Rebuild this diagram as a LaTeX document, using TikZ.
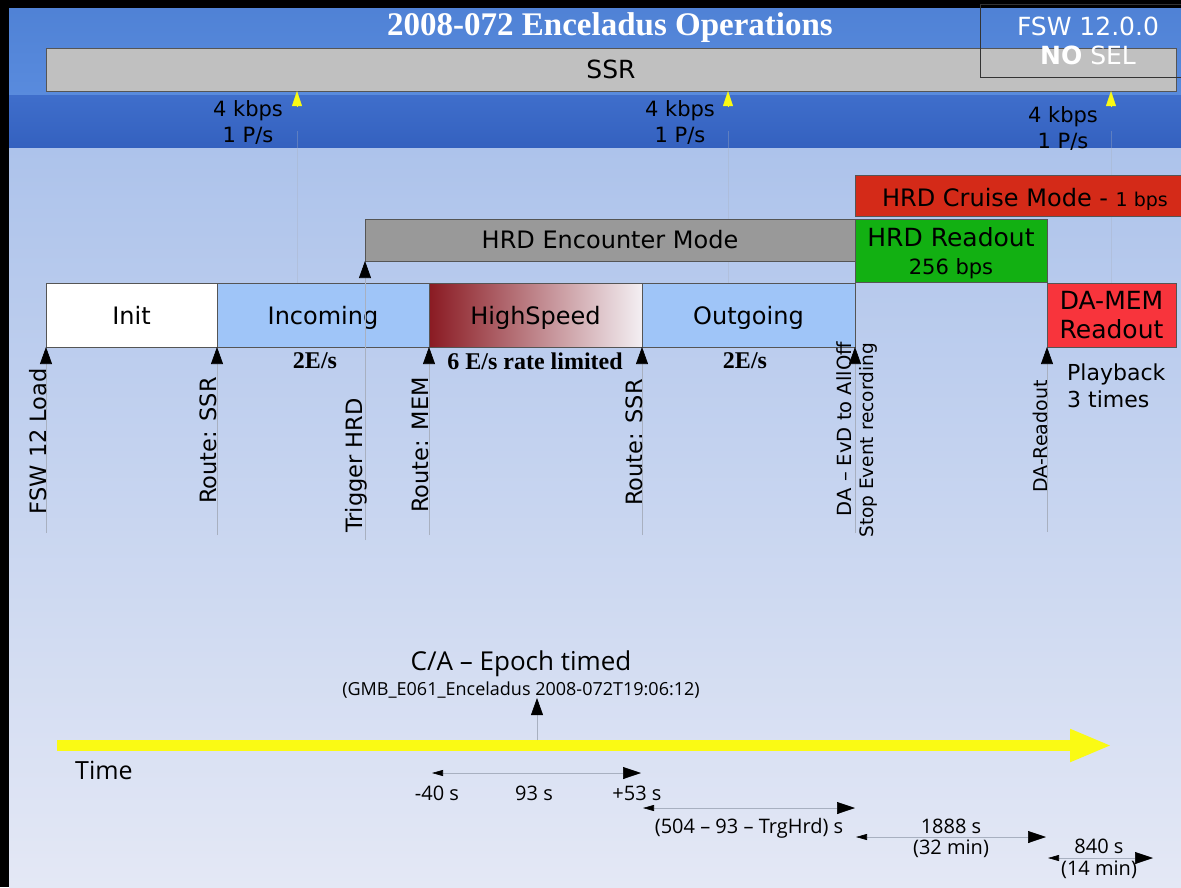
\documentclass[tikz,border=0pt]{standalone}
\usepackage{xcolor}
\usepackage{fontspec}
\setmainfont{DejaVu Sans}
\newfontfamily\headfont{Liberation Serif}
\newfontfamily\tlfont{Open Sans}
\newcommand{\ptsize}[2]{\fontsize{#1}{#2}\selectfont}
\usepackage{tikz}
\usetikzlibrary{arrows.meta}
\usetikzlibrary{calc}
\usetikzlibrary{positioning}

\definecolor{bandtop}{HTML}{5286DC}
\definecolor{bandmid}{HTML}{3F6ECB}
\definecolor{bandlow}{HTML}{3461BF}
\definecolor{paletop}{HTML}{ADC3EB}
\definecolor{palemid}{HTML}{D3DDF1}
\definecolor{palebot}{HTML}{E4E8F5}
\definecolor{ssrgray}{HTML}{C0C0C0}
\definecolor{encgray}{HTML}{999999}
\definecolor{cruisered}{HTML}{D42A18}
\definecolor{readgreen}{HTML}{12B012}
\definecolor{phaseblue}{HTML}{9FC5F8}
\definecolor{fastred}{HTML}{8A1A22}
\definecolor{fastmid}{HTML}{C2868C}
\definecolor{fastpale}{HTML}{F3EFF3}
\definecolor{memred}{HTML}{F8343C}
\definecolor{boxedge}{HTML}{555555}
\definecolor{guide}{HTML}{A8B0C0}
\definecolor{flash}{HTML}{FAFA14}

\begin{document}
\begin{tikzpicture}[x=1pt, y=-1pt,
    box/.style={draw=boxedge, line width=0.8pt, inner sep=0pt, outer sep=0pt,
      anchor=north west, font=\ptsize{24}{29}},
    phase/.style={box, minimum height=64pt, text height=22pt, text depth=3pt},
    evt/.style={draw=guide, line width=0.6pt,
      -{Triangle[length=17pt,width=12pt,color=black]}},
    rate/.style={draw=flash, line width=0.5pt,
      -{Triangle[length=15pt,width=10pt,color=flash]}},
    evlbl/.style={rotate=90, anchor=east, inner sep=0pt, font=\ptsize{22.5}{27}},
    span/.style={draw=guide, line width=0.6pt,
      {Triangle[length=11pt,width=6pt,color=black]}-{Triangle[length=18pt,width=12pt,color=black]}},
    tl/.style={font=\tlfont\ptsize{20}{20}, inner sep=0pt, anchor=base},
    rateL/.style={font=\ptsize{21}{26}, align=center, inner sep=0pt},
    erate/.style={font=\headfont\bfseries\ptsize{24}{24}, inner sep=0pt}]

  % slide background
  \useasboundingbox (0,0) rectangle (1181,887);
  \clip (0,0) rectangle (1181,887);
  \fill[black] (0,0) rectangle (1181,887);
  \fill[top color=bandtop!97!black, bottom color=bandtop!96!white] (9,8) rectangle (1181,95);
  \fill[top color=bandmid, bottom color=bandlow] (9,95) rectangle (1181,148);
  \fill[top color=paletop, middle color=palemid, bottom color=palebot] (9,148) rectangle (1181,887);

  \foreach \gx in {297,728,1111}
    \draw[guide, line width=0.5pt, opacity=.35] (\gx,131) -- (\gx,283);

  \node[font=\headfont\bfseries\ptsize{33}{33}, text=white, inner sep=0pt]
    (title) at (610,28) {2008-072 Enceladus Operations};

  \node[box, fill=ssrgray, minimum width=1130pt, minimum height=43pt, font=\ptsize{25}{25}]
    (ssr) at (46,48) {SSR};
  \node[box, draw=black!80, minimum width=216pt, minimum height=73pt, text=white,
    align=center, font=\ptsize{25}{29}] (fsw) at (980,4) {FSW 12.0.0\\\textbf{NO} SEL};

  % telemetry rate
  \coordinate (rA) at (297,107);
  \coordinate (rB) at (728,107);
  \coordinate (rC) at (1111,107);
  \draw[rate] (rA) -- (rA |- ssr.south);
  \draw[rate] (rB) -- (rB |- ssr.south);
  \draw[rate] (rC) -- (rC |- ssr.south);
  \node[rateL] (kA) at (248,122) {4 kbps\\1 P/s};
  \node[rateL] (kB) at (680,122) {4 kbps\\1 P/s};
  \node[rateL] (kC) at (1063,128) {4 kbps\\1 P/s};

  % HRD modes
  \node[box, fill=cruisered, minimum width=340pt, minimum height=41pt,
    text height=21pt, text depth=0pt] (cruise) at (855,175)
    {HRD Cruise Mode - {\ptsize{19}{19}1 bps}};
  \node[box, fill=encgray, minimum width=490pt, minimum height=42pt]
    (enc) at (365,219) {HRD Encounter Mode};
  \node[box, fill=readgreen, minimum width=192pt, minimum height=63pt, align=center,
    font=\ptsize{25}{28}, text depth=0pt] (hrdro) at (855,219)
    {HRD Readout\\{\ptsize{21}{21}256 bps}};

  % phases
  \node[phase, fill=white, minimum width=171pt] (init) at (46,283) {Init};
  \node[phase, fill=phaseblue, minimum width=212pt, right=0pt of init] (incoming) {Incoming};
  \node[phase, left color=fastred, middle color=fastmid, right color=fastpale,
    minimum width=213pt, right=0pt of incoming] (fast) {HighSpeed};
  \node[phase, fill=phaseblue, minimum width=213pt, right=0pt of fast] (outgoing) {Outgoing};
  \node[box, fill=memred, minimum width=129pt, minimum height=64pt, align=center,
    font=\ptsize{25}{29}] (damem) at (1047,283) {DA-MEM\\Readout};

  % commands
  \coordinate (eFSW) at (46,533);
  \coordinate (eSSR) at (217,535);
  \coordinate (eTrig) at (365,540);
  \coordinate (eMEM) at (429,535);
  \coordinate (eSSRb) at (642,535);
  \coordinate (eOff) at (855,533);
  \coordinate (eRead) at (1047,532);
  \draw[evt] (eFSW) -- (init.south west);
  \draw[evt] (eSSR) -- (incoming.south west);
  \draw[evt] (eTrig) -- (enc.south west);
  \draw[evt] (eMEM) -- (fast.south west);
  \draw[evt] (eSSRb) -- (outgoing.south west);
  \draw[evt] (eOff) -- (outgoing.south east);
  \draw[evt] (eRead) -- (damem.south west);

  \node[evlbl] (lFSW) at (38,368) {FSW 12 Load};
  \node[evlbl] (lSSR) at (208,377) {Route: SSR};
  \node[evlbl] (lTrig) at (356,398) {Trigger HRD};
  \node[evlbl] (lMEM) at (420,377) {Route: MEM};
  \node[evlbl] (lSSRb) at (634,379) {Route: SSR};
  \node[evlbl, font=\ptsize{19.5}{19.5}] (lOff) at (844,342) {DA – EvD to AllOff};
  \node[evlbl, font=\ptsize{18.5}{18.5}] (lStop) at (868,343) {Stop Event recording};
  \node[evlbl, font=\ptsize{19}{19}] (lRead) at (1040,380) {DA-Readout};

  \node[erate] (rIn) at (315,361) {2E/s};
  \node[erate] (rFast) at (535,361) {6 E/s rate limited};
  \node[erate] (rOut) at (745,361) {2E/s};
  \node[font=\ptsize{22}{27}, align=left, anchor=west, inner sep=0pt]
    (play) at (1067,386) {Playback\\3 times};

  % time line
  \coordinate (tStart) at (57,745.5);
  \coordinate (tEnd) at (1112,745.5);
  \draw[line width=11pt, flash, -{Triangle[length=42pt,width=30pt]}] (tStart) -- (tEnd);
  \node[tl, font=\tlfont\ptsize{25}{25}, anchor=base west] (time) at (75,779) {Time};

  \node[tl, font=\tlfont\ptsize{26}{26}] (ca) at (521,670) {C/A – Epoch timed};
  \node[tl, font=\tlfont\ptsize{18}{18}] (gmb) at (521,695)
    {(GMB\_E061\_Enceladus 2008-072T19:06:12)};
  \coordinate (caFoot) at (537,740);
  \draw[evt] (caFoot) -- (caFoot |- gmb.south);

  % durations
  \coordinate (s1a) at (432,773);
  \coordinate (s1b) at (641,773);
  \coordinate (s2a) at (643,808);
  \coordinate (s2b) at (855,808);
  \coordinate (s3a) at (856,837);
  \coordinate (s3b) at (1046,837);
  \coordinate (s4a) at (1048,858);
  \coordinate (s4b) at (1153,858);
  \draw[span] (s1a) -- (s1b);
  \draw[span] (s2a) -- (s2b);
  \draw[span] (s3a) -- (s3b);
  \draw[span] (s4a) -- (s4b);
  \node[tl] (dPre) at (437,800) {-40 s};
  \node[tl] (dHigh) at (534,800) {93 s};
  \node[tl] (dPost) at (637,800) {+53 s};
  \node[tl] (dOut) at (749,833) {(504 – 93 – TrgHrd) s};
  \node[tl] (dRead) at (951,833) {1888 s};
  \node[tl] (dReadm) at (951,854) {(32 min)};
  \node[tl] (dMem) at (1099,853) {840 s};
  \node[tl] (dMemm) at (1099,875) {(14 min)};

\end{tikzpicture}
\end{document}
